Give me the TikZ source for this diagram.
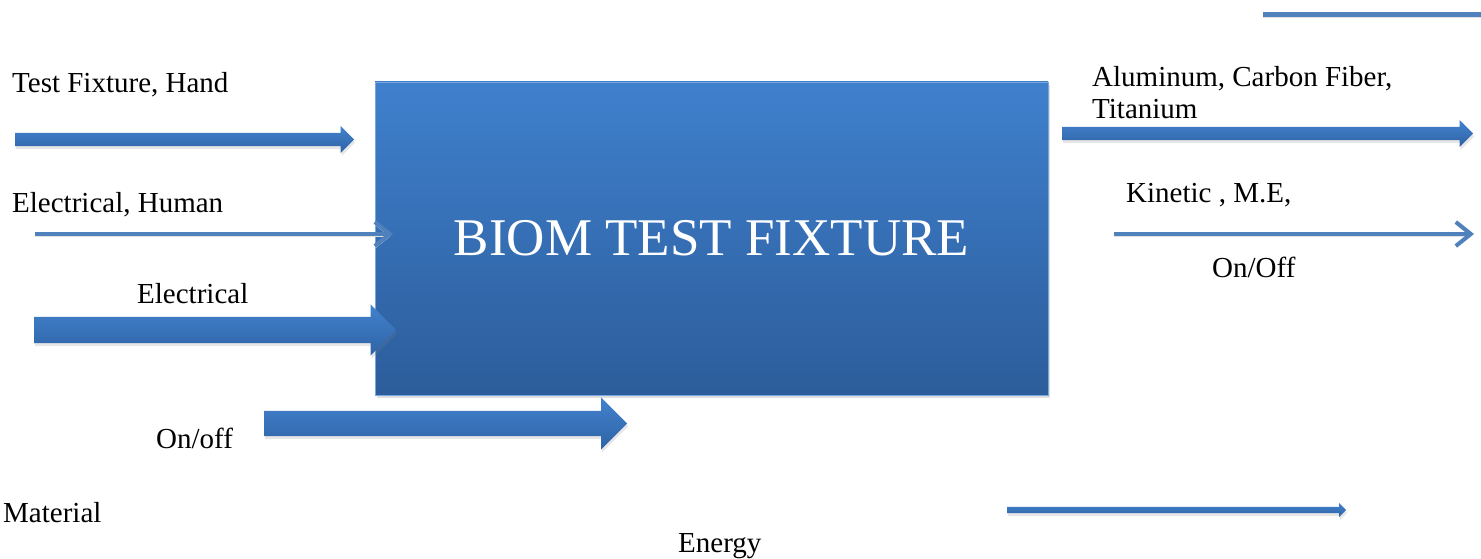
\documentclass[tikz,border=0pt]{standalone}
\usepackage{fontspec}
\setmainfont{Liberation Serif}
\usetikzlibrary{
  shapes.arrows,
  arrows.meta,
  shadows
}
\definecolor{BoxTop}{HTML}{3F80CD}
\definecolor{BoxBot}{HTML}{2C5D9B}
\definecolor{ArrTop}{HTML}{4282CE}
\definecolor{ArrBot}{HTML}{2F63A5}
\definecolor{LineBlue}{HTML}{4F81BD}
\tikzset{
  % Function block
  block/.style={
    rectangle, draw=BoxTop!70!white, line width=0.8pt,
    top color=BoxTop, bottom color=BoxBot,
    minimum width=673pt, minimum height=313pt, inner sep=0pt,
    font=\fontsize{53}{60}\selectfont, text=white,
    drop shadow={opacity=0.25, shadow xshift=2pt, shadow yshift=-3pt}
  },
  % Fat flow arrow: #1 length, #2 shaft half width, #3 head extend
  fat/.style n args={3}{
    single arrow, anchor=tail, draw=none,
    top color=ArrTop, bottom color=ArrBot,
    minimum height=#1, minimum width=0pt,
    inner xsep=0pt, inner ysep=#2,
    single arrow head extend=#3, single arrow tip angle=90,
    drop shadow={opacity=0.2, shadow xshift=1pt, shadow yshift=-3pt}
  },
  % Thin flow arrow
  thin/.style={
    -{Straight Barb[length=15pt,width=24pt]},
    line width=4pt, color=LineBlue,
    preaction={draw=black!12, transform canvas={yshift=-2.5pt}}
  },
  % Flow label
  lbl/.style={font=\fontsize{29}{32}\selectfont, anchor=base west, inner sep=0pt, align=left}
}
\begin{document}
\begin{tikzpicture}[x=1pt,y=-1pt]
  \useasboundingbox (0,0) rectangle (1481,559);

  % Main block
  \node[block] (biom) at (711.5,238.5) {\raisebox{-2pt}{BIOM TEST FIXTURE}};

  % Inputs
  \node[fat={339pt}{6.5pt}{7pt}]   (inhand)  at (15,139.5) {};
  \coordinate (hstart) at (35,234);
  \coordinate (hend)   at (393,234);
  \draw[thin] (hstart) -- (hend);
  \node[fat={362pt}{13pt}{12.5pt}] (inelec)  at (34,330) {};
  \node[fat={363pt}{12.5pt}{13.5pt}] (inonoff) at (264,423.5) {};

  % Outputs
  \coordinate (tstart) at (1263,15);
  \coordinate (tend)   at (1481,15);
  \draw[line width=5pt, color=LineBlue, preaction={draw=black!12, transform canvas={yshift=-2.5pt}}] (tstart) -- (tend);
  \node[fat={411pt}{6.5pt}{7pt}]   (outmat)  at (1062,133.5) {};
  \coordinate (kstart) at (1114,234);
  \coordinate (kend)   at (1474,234);
  \draw[thin] (kstart) -- (kend);

  % Legend arrow
  \node[fat={339pt}{3pt}{4pt}]     (energy)  at (1007,510) {};

  % Labels
  \node[lbl] (thand)   at (12,93)    {Test Fixture, Hand};
  \node[lbl] (thuman)  at (12,212)   {Electrical, Human};
  \node[lbl] (telec)   at (137,303)  {Electrical};
  \node[lbl] (tonoff)  at (156,448)  {On/off};
  \node[lbl] (tmatl)   at (3,522)    {Material};
  \node[lbl] (tenergy) at (678,552)  {Energy};
  \node[lbl] (talum)   at (1092,119) {Aluminum, Carbon Fiber,\\Titanium};
  \node[lbl] (tkin)    at (1126,202) {Kinetic , M.E,};
  \node[lbl] (tonoff2) at (1212,277) {On/Off};

\end{tikzpicture}
\end{document}
